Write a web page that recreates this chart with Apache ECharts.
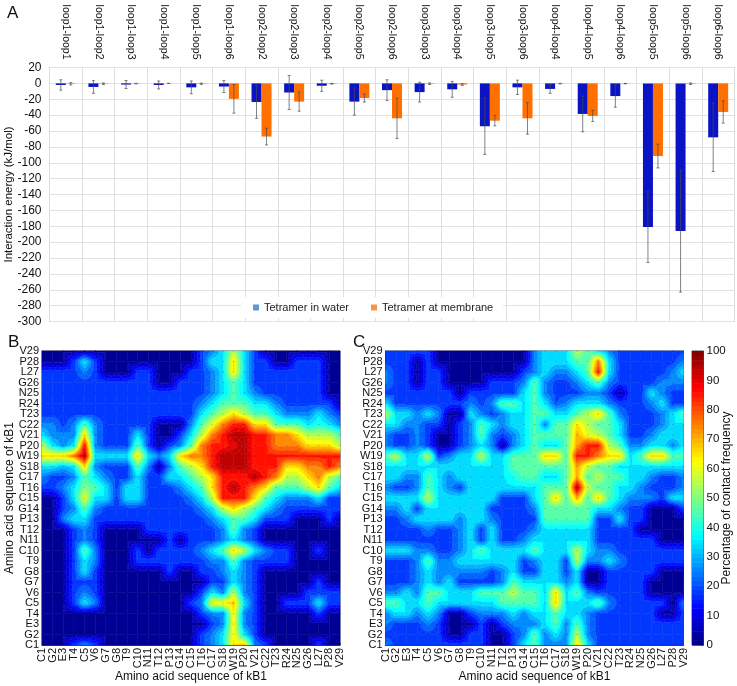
<!DOCTYPE html>
<html>
<head>
<meta charset="utf-8">
<style>html,body{margin:0;padding:0;background:#fff}#chart{width:737px;height:686px}</style>
<script src="https://cdn.jsdelivr.net/npm/echarts@6/dist/echarts.min.js"></script>
</head>
<body>
<div id="chart"></div>
<script>
const loopPairs = ["loop1-loop1","loop1-loop2","loop1-loop3","loop1-loop4","loop1-loop5","loop1-loop6","loop2-loop2","loop2-loop3","loop2-loop4","loop2-loop5","loop2-loop6","loop3-loop3","loop3-loop4","loop3-loop5","loop3-loop6","loop4-loop4","loop4-loop5","loop4-loop6","loop5-loop5","loop5-loop6","loop6-loop6"];
const water = [-2,-4.5,-1.5,-2,-5,-4,-23.5,-11.5,-3,-23,-8.5,-11,-7.5,-54,-5,-7,-38.5,-16,-181,-186,-68];
const waterErr = [6.5,8,5,5,8,7.5,20.5,21.5,7,17,13,12.5,10,35.5,9,5.5,22.5,14,44.5,77,43];
const membrane = [-0.5,-0.5,-0.3,0,-0.5,-19.5,-67,-23,-0.5,-18.5,-44,-0.5,-1.5,-47,-44,-0.3,-41,-0.3,-91.5,-0.5,-36];
const membraneErr = [1.5,1,0.3,0,0.8,18,10.5,12,0.5,5,25.5,1,1,6.5,20,0.3,7,0.3,15,1,14];

const residues = ["C1","G2","E3","T4","C5","V6","G7","G8","T9","C10","N11","T12","P13","G14","C15","T16","C17","S18","W19","P20","V21","C22","T23","R24","N25","G26","L27","P28","V29"];
const contourLevels = [0,4,8,12,16,20,24,28,32,36,40,44,48,52,56,60,64,68,72,76,80,84,88,92,96,100];

// rows run from V29 (top) down to C1, columns C1..V29
const contactB = [
  [3,3,3,3,3,3,3,3,3,3,3,3,3,3,3,18,25,35,55,35,18,3,3,3,3,3,3,3,3],
  [3,3,3,18,35,18,3,3,3,3,3,3,3,3,3,18,35,35,65,35,18,18,3,3,18,18,18,3,3],
  [18,18,18,18,25,18,3,3,3,18,18,3,3,3,18,18,25,35,65,35,18,18,18,18,18,18,18,3,3],
  [18,18,18,18,18,18,18,18,18,18,18,3,3,18,18,18,25,35,45,35,18,18,18,18,18,18,18,3,3],
  [18,18,18,18,18,18,18,18,18,18,18,18,18,18,18,18,25,35,45,35,25,18,18,18,18,18,18,3,3],
  [18,18,18,18,18,18,18,18,18,18,18,18,18,18,18,25,35,45,45,45,35,35,25,18,18,18,18,18,3],
  [18,18,18,18,18,18,18,18,18,18,18,18,18,18,18,35,45,55,65,55,45,45,35,25,25,25,35,25,18],
  [25,25,18,25,45,25,18,18,18,18,18,3,3,3,25,45,60,75,85,85,65,65,45,45,45,35,40,35,25],
  [35,25,25,25,65,25,18,18,18,35,18,3,3,18,35,55,75,85,95,95,85,85,75,75,65,55,55,55,45],
  [55,35,25,35,85,25,18,18,18,45,18,3,18,25,45,75,85,85,90,95,85,85,75,75,75,65,65,65,55],
  [65,65,65,75,95,35,35,35,35,65,35,25,35,65,75,75,85,95,95,95,85,85,85,85,85,85,85,85,85],
  [35,35,30,35,65,25,18,18,18,45,25,3,25,45,55,65,85,95,95,95,85,85,85,65,65,75,75,85,75],
  [25,18,18,25,45,35,25,18,18,35,18,18,35,35,45,55,65,85,85,85,95,85,75,55,55,65,75,55,45],
  [18,18,25,35,50,45,35,18,35,35,18,18,18,25,35,45,65,85,95,85,75,65,45,45,45,55,65,45,35],
  [3,3,18,35,60,35,35,18,35,35,18,18,18,18,25,35,55,85,85,85,65,45,35,25,25,25,35,18,18],
  [3,3,18,25,45,25,18,18,18,18,18,18,18,18,18,25,35,55,65,55,45,35,25,18,18,18,18,18,18],
  [3,3,25,35,35,18,18,18,18,18,18,18,18,18,18,18,25,35,45,45,35,18,18,18,3,3,3,18,3],
  [3,3,3,18,25,18,3,3,3,3,18,18,18,18,18,18,18,25,45,25,18,3,3,3,3,3,3,3,3],
  [3,3,3,18,25,18,3,3,3,3,3,3,18,3,18,18,18,25,35,25,18,3,3,3,3,3,3,3,3],
  [3,3,3,18,45,25,3,3,3,18,3,18,18,18,18,25,35,45,65,55,35,25,18,18,3,3,18,3,3],
  [3,3,3,18,35,25,3,3,3,18,18,18,18,18,18,18,25,25,45,25,18,18,18,18,3,3,3,3,3],
  [3,3,3,18,35,18,3,3,3,3,3,3,18,3,3,18,18,25,35,25,18,3,3,3,3,3,3,3,3],
  [3,3,3,18,18,18,3,3,3,3,3,3,3,3,3,3,18,18,35,25,18,3,3,3,3,3,18,3,3],
  [3,3,3,18,25,18,3,3,3,3,3,3,3,3,3,18,35,25,55,25,18,3,3,3,3,18,18,18,18],
  [3,3,3,18,35,25,3,3,3,3,3,3,3,3,18,25,62,62,69,35,18,3,3,18,18,18,35,18,18],
  [3,3,3,3,3,3,3,3,3,3,3,3,3,3,3,18,25,25,63,25,18,3,3,3,3,3,18,3,3],
  [3,3,3,3,3,3,3,3,3,3,3,3,3,3,3,3,18,25,63,25,18,3,3,3,3,3,3,3,3],
  [3,3,3,3,3,3,3,3,3,3,3,3,3,3,3,18,25,35,63,35,18,3,3,3,3,3,3,3,3],
  [3,3,3,18,25,18,3,3,3,3,3,3,3,3,3,18,25,35,65,68,25,18,3,3,3,3,18,3,3]
];
const contactC = [
  [18,18,18,18,18,3,3,3,3,3,3,3,3,3,25,35,35,35,55,45,35,25,18,18,18,18,18,18,18],
  [18,18,18,3,18,3,3,3,3,3,3,3,3,3,25,35,35,35,45,45,75,35,18,18,18,18,18,18,25],
  [25,18,18,3,18,18,3,3,3,3,3,3,3,18,25,35,25,25,35,45,85,35,18,18,18,18,18,25,35],
  [25,18,18,3,18,18,3,3,3,3,18,18,18,25,45,25,18,18,25,35,45,25,18,18,18,18,25,25,25],
  [18,18,18,18,18,18,18,3,18,18,18,18,18,35,45,25,18,18,18,25,25,18,3,18,18,35,25,18,18],
  [35,18,18,18,18,18,18,18,25,18,25,45,45,35,45,35,20,25,35,35,35,25,18,18,18,25,35,18,18],
  [55,35,35,25,35,25,3,3,35,25,18,25,35,35,45,45,35,35,45,55,65,45,25,18,18,18,25,35,45],
  [35,35,25,25,18,18,3,18,25,45,35,25,35,35,45,25,45,45,65,55,45,45,35,18,18,18,25,35,35],
  [25,18,18,25,18,3,3,18,25,45,25,18,25,35,45,45,45,45,70,60,55,45,35,18,18,25,35,35,35],
  [25,18,18,25,18,3,3,18,25,35,25,3,25,35,45,35,35,45,72,85,85,55,45,25,25,35,35,25,35],
  [45,55,35,35,55,18,25,35,35,55,35,35,45,45,45,65,65,45,85,85,75,65,65,35,45,65,65,45,45],
  [35,35,35,35,35,35,35,35,35,35,35,35,45,45,45,45,45,45,72,55,45,45,35,35,35,35,35,35,35],
  [35,35,25,25,45,35,25,35,35,35,35,35,40,45,45,35,35,45,70,45,55,45,45,35,35,25,18,18,25],
  [25,18,18,25,45,35,25,18,35,35,35,35,35,35,35,45,45,45,95,55,45,45,35,35,25,18,18,18,25],
  [35,35,35,35,55,35,35,35,35,35,35,18,18,18,35,45,65,45,70,45,65,45,35,25,25,25,18,35,35],
  [25,25,35,18,35,35,35,35,35,35,18,18,18,18,25,45,45,45,45,45,35,35,25,18,18,3,3,3,18],
  [18,18,25,35,35,35,35,25,35,35,25,18,18,18,18,45,45,45,45,45,18,18,35,18,18,3,3,3,3],
  [18,18,18,18,25,18,18,25,35,18,35,18,18,18,25,35,35,35,35,35,18,18,18,18,3,3,3,3,3],
  [18,18,18,18,18,18,18,25,35,18,35,18,18,25,35,35,35,35,35,35,18,18,18,18,18,18,3,3,3],
  [35,35,35,25,25,18,18,25,35,45,35,35,35,35,45,35,35,35,55,35,25,25,18,18,18,18,18,18,18],
  [18,18,18,25,45,25,25,35,35,35,35,35,35,18,25,35,35,18,55,25,25,35,25,18,18,18,18,18,18],
  [18,18,18,25,35,25,25,25,25,25,18,25,35,18,18,35,35,18,35,3,3,18,18,18,18,18,3,3,3],
  [18,18,18,25,35,25,35,18,18,18,18,25,45,35,35,35,35,25,35,3,3,18,18,18,18,3,3,3,3],
  [25,25,35,25,45,45,35,35,35,45,45,45,55,45,45,35,65,35,45,25,18,18,18,18,18,3,3,3,3],
  [45,45,35,35,45,35,35,35,35,35,35,45,45,45,45,35,65,35,35,35,45,25,18,18,18,18,18,3,25],
  [25,35,35,25,35,25,3,3,18,25,25,25,35,25,35,35,45,35,35,25,18,18,18,18,18,18,3,3,18],
  [25,18,18,18,25,18,3,3,3,18,3,18,25,25,25,35,45,25,45,25,18,18,18,18,18,18,18,18,18],
  [18,18,18,18,18,18,3,3,18,18,3,3,18,25,45,25,35,25,55,25,18,18,18,18,18,18,18,18,18],
  [25,18,18,18,18,18,18,18,18,18,3,3,18,35,45,25,25,25,65,35,18,18,18,18,18,18,18,18,18]
];

const FONT = '"Liberation Sans", Arial, sans-serif';

// matlab jet, t in 0..1
function jet(t) {
  const ch = (x) => Math.round(255 * Math.max(0, Math.min(1, 1.5 - Math.abs(4 * t - x))));
  return "rgb(" + ch(3) + "," + ch(2) + "," + ch(1) + ")";
}

// clip a polygon of [x, y, v] points to v >= level (sign 1) or v <= level (sign -1)
function clipPoly(poly, level, sign) {
  const out = [];
  for (let k = 0; k < poly.length; k++) {
    const a = poly[k], b = poly[(k + 1) % poly.length];
    const da = sign * (a[2] - level), db = sign * (b[2] - level);
    if (da >= 0) out.push(a);
    if ((da >= 0) !== (db >= 0)) {
      const f = da / (da - db);
      out.push([a[0] + (b[0] - a[0]) * f, a[1] + (b[1] - a[1]) * f, level]);
    }
  }
  return out;
}

// filled contours for one grid cell, cut into four triangles round its centre
function contourItem(rows) {
  const m = rows.slice().reverse();
  return function (params, api) {
    const i = api.value(0), j = api.value(1);
    const p = [[i, j], [i + 1, j], [i + 1, j + 1], [i, j + 1]].map((c) => {
      const xy = api.coord(c);
      return [xy[0], xy[1], m[c[1]][c[0]]];
    });
    const mid = [0, 1, 2].map((k) => (p[0][k] + p[1][k] + p[2][k] + p[3][k]) / 4);
    const children = [];
    const addPoly = (poly, lo, hi) => {
      const color = jet((lo + hi) / 200);
      children.push({
        type: "polygon",
        shape: { points: poly.map((q) => [q[0], q[1]]) },
        style: { fill: color, stroke: color, lineWidth: 0.5 },
      });
    };
    const bands = contourLevels.slice(0, -1);
    for (let b = 0; b < bands.length; b++) {
      const lo = contourLevels[b], hi = contourLevels[b + 1];
      if (p.every((q) => q[2] >= lo && q[2] <= hi)) {
        addPoly(p, lo, hi);
        return { type: "group", children: children };
      }
    }
    for (let s = 0; s < 4; s++) {
      const tri = [mid, p[s], p[(s + 1) % 4]];
      for (let b = 0; b < bands.length; b++) {
        const poly = clipPoly(clipPoly(tri, contourLevels[b], 1), contourLevels[b + 1], -1);
        if (poly.length >= 3) addPoly(poly, contourLevels[b], contourLevels[b + 1]);
      }
    }
    return { type: "group", children: children };
  };
}

function errorBarItem(values, errors, offset) {
  return function (params, api) {
    const idx = api.value(0);
    const top = api.coord([idx, values[idx] + errors[idx]]);
    const bot = api.coord([idx, values[idx] - errors[idx]]);
    const x = top[0] + offset;
    const style = { stroke: "#4a4a4a", lineWidth: 0.7 };
    return {
      type: "group",
      children: [
        { type: "line", shape: { x1: x, y1: top[1], x2: x, y2: bot[1] }, style: style },
        { type: "line", shape: { x1: x - 1.5, y1: top[1], x2: x + 1.5, y2: top[1] }, style: style },
        { type: "line", shape: { x1: x - 1.5, y1: bot[1], x2: x + 1.5, y2: bot[1] }, style: style },
      ],
    };
  };
}

const cellIndex = [];
const nodeIndex = [];
residues.forEach((_, i) => {
  residues.forEach((_, j) => {
    nodeIndex.push([i, j]);
    if (i < residues.length - 1 && j < residues.length - 1) cellIndex.push([i, j]);
  });
});

const colorbarSteps = [];
for (let v = 0; v < 64; v++) colorbarSteps.push(v);

function residueAxis(gridIndex, name, rotate) {
  return {
    type: "category",
    gridIndex: gridIndex,
    data: residues,
    boundaryGap: false,
    name: name,
    nameLocation: "middle",
    nameGap: rotate ? 26 : 26,
    nameMoveOverlap: false,
    nameTextStyle: { fontFamily: FONT, fontSize: 12, color: "#111" },
    axisLine: { show: true, onZero: false, lineStyle: { color: "#222", width: 0.8 } },
    axisTick: { show: true, inside: true, length: 2, alignWithLabel: true, lineStyle: { color: "#222", width: 0.6 } },
    axisLabel: { interval: 0, rotate: rotate, margin: 3, fontFamily: FONT, fontSize: 11, color: "#111" },
    splitLine: { show: false },
  };
}

const option = {
  animation: false,
  backgroundColor: "#fff",
  textStyle: { fontFamily: FONT },
  title: [
    { text: "A", left: 2, top: 0, textStyle: { fontFamily: FONT, fontSize: 17, fontWeight: "normal", color: "#111" } },
    { text: "B", left: 3, top: 329, textStyle: { fontFamily: FONT, fontSize: 17, fontWeight: "normal", color: "#111" } },
    { text: "C", left: 348, top: 329, textStyle: { fontFamily: FONT, fontSize: 17, fontWeight: "normal", color: "#111" } },
  ],
  legend: {
    data: [
      { name: "Tetramer in water", itemStyle: { color: "#5b9bd5" } },
      { name: "Tetramer at membrane", itemStyle: { color: "#f79646" } },
    ],
    left: 241,
    top: 297,
    itemWidth: 6,
    itemHeight: 6,
    itemGap: 22,
    padding: [5, 10, 5, 12],
    backgroundColor: "#fff",
    icon: "rect",
    textStyle: { fontFamily: FONT, fontSize: 11, color: "#222" },
  },
  grid: [
    { left: 49.5, top: 67.5, width: 685, height: 254, show: true, borderColor: "#8a8a8a", borderWidth: 1, backgroundColor: "#fff", outerBoundsMode: "none" },
    { left: 42, top: 351, width: 298, height: 294, show: true, borderColor: "#222", borderWidth: 0.8, outerBoundsMode: "none" },
    { left: 385.5, top: 351, width: 298, height: 294, show: true, borderColor: "#222", borderWidth: 0.8, outerBoundsMode: "none" },
    { left: 692, top: 351, width: 11.5, height: 294, show: true, borderColor: "#222", borderWidth: 0.8, outerBoundsMode: "none" },
  ],
  xAxis: [
    {
      type: "category",
      gridIndex: 0,
      position: "top",
      data: loopPairs,
      axisLine: { show: false, onZero: false },
      axisTick: { show: false },
      splitLine: { show: true, interval: 0, lineStyle: { color: "#dedede", width: 1 } },
      axisLabel: { interval: 0, rotate: 90, margin: 8, fontFamily: FONT, fontSize: 10.5, color: "#111" },
    },
    residueAxis(1, "Amino acid sequence of kB1", 90),
    residueAxis(2, "Amino acid sequence of kB1", 90),
    { type: "category", gridIndex: 3, data: [""], boundaryGap: false, show: false },
  ],
  yAxis: [
    {
      type: "value",
      gridIndex: 0,
      min: -300,
      max: 20,
      interval: 20,
      name: "Interaction energy (kJ/mol)",
      nameLocation: "middle",
      nameGap: 35,
      nameMoveOverlap: false,
      nameTextStyle: { fontFamily: FONT, fontSize: 11.5, color: "#111" },
      axisLine: { show: false },
      axisTick: { show: false },
      axisLabel: { margin: 8, fontFamily: FONT, fontSize: 12, color: "#111" },
      splitLine: { show: true, lineStyle: { color: "#e2e2e2", width: 1 } },
    },
    residueAxis(1, "Amino acid sequence of kB1", 0),
    residueAxis(2, "", 0),
    {
      type: "value",
      gridIndex: 3,
      position: "right",
      min: 0,
      max: 100,
      interval: 10,
      name: "Percentage of contact frequency",
      nameLocation: "middle",
      nameRotate: 90,
      nameGap: 17,
      nameMoveOverlap: false,
      nameTextStyle: { fontFamily: FONT, fontSize: 12, color: "#111" },
      axisLine: { show: false },
      axisTick: { show: true, inside: true, length: 2, lineStyle: { color: "#222", width: 0.6 } },
      axisLabel: { margin: 3, fontFamily: FONT, fontSize: 11.5, color: "#111" },
      splitLine: { show: false },
    },
  ],
  series: [
    { name: "Tetramer in water", type: "bar", xAxisIndex: 0, yAxisIndex: 0, data: water, barWidth: 10, barGap: 0, itemStyle: { color: "#0a14c4" } },
    { name: "Tetramer at membrane", type: "bar", xAxisIndex: 0, yAxisIndex: 0, data: membrane, barWidth: 10, barGap: 0, itemStyle: { color: "#ff7000" } },
    { type: "custom", xAxisIndex: 0, yAxisIndex: 0, silent: true, z: 3, data: water.map((_, i) => [i]), encode: { x: 0 }, renderItem: errorBarItem(water, waterErr, -5) },
    { type: "custom", xAxisIndex: 0, yAxisIndex: 0, silent: true, z: 3, data: membrane.map((_, i) => [i]), encode: { x: 0 }, renderItem: errorBarItem(membrane, membraneErr, 5) },
    { type: "custom", xAxisIndex: 1, yAxisIndex: 1, silent: true, data: cellIndex, encode: { x: 0, y: 1 }, renderItem: contourItem(contactB) },
    { type: "custom", xAxisIndex: 2, yAxisIndex: 2, silent: true, data: cellIndex, encode: { x: 0, y: 1 }, renderItem: contourItem(contactC) },
    { type: "scatter", xAxisIndex: 1, yAxisIndex: 1, silent: true, z: 4, data: nodeIndex, symbolSize: 1, itemStyle: { color: "#000", opacity: 0.35 } },
    { type: "scatter", xAxisIndex: 2, yAxisIndex: 2, silent: true, z: 4, data: nodeIndex, symbolSize: 1, itemStyle: { color: "#000", opacity: 0.35 } },
    {
      type: "custom",
      xAxisIndex: 3,
      yAxisIndex: 3,
      silent: true,
      data: colorbarSteps.map((v) => [0, v]),
      encode: { y: 1 },
      renderItem: function (params, api) {
        const step = api.value(1);
        const a = api.coord([0, (step * 100) / 64]);
        const b = api.coord([0, ((step + 1) * 100) / 64]);
        const color = jet((step + 0.5) / 64);
        return {
          type: "rect",
          shape: { x: 692, y: b[1], width: 11.5, height: a[1] - b[1] + 0.5 },
          style: { fill: color },
        };
      },
    },
  ],
};

const chart = echarts.init(document.getElementById("chart"), null, { renderer: "canvas" });
chart.setOption(option);
</script>
</body>
</html>
